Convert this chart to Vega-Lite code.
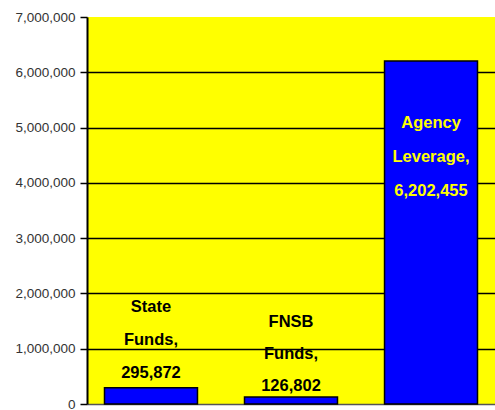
{
  "$schema": "https://vega.github.io/schema/vega-lite/v6.json",
  "width": 408,
  "height": 387,
  "autosize": "none",
  "padding": {"left": 87, "top": 17, "right": 0, "bottom": 6},
  "background": "white",
  "config": {
    "view": {"fill": "#ffff00", "stroke": null},
    "font": "Liberation Sans, Arial, sans-serif"
  },
  "data": {
    "values": [
      {"category": "State Funds", "value": 295872, "label": "State\nFunds,\n295,872"},
      {"category": "FNSB Funds", "value": 126802, "label": "FNSB\nFunds,\n126,802"},
      {"category": "Agency Leverage", "value": 6202455, "label": "Agency\nLeverage,\n6,202,455"}
    ]
  },
  "encoding": {
    "x": {
      "field": "category", "type": "nominal", "sort": null,
      "scale": {"paddingInner": 0.336, "paddingOuter": 0.125},
      "axis": {"title": null, "labels": false, "ticks": false, "domainColor": "#555555", "domainWidth": 1.5}
    },
    "y": {
      "field": "value", "type": "quantitative",
      "scale": {"domain": [0, 7000000], "nice": false},
      "axis": {
        "title": null, "values": [0, 1000000, 2000000, 3000000, 4000000, 5000000, 6000000, 7000000],
        "format": ",d", "labelFontSize": 13.5, "labelColor": "#333333", "labelPadding": 5,
        "labelFont": "Liberation Sans, Arial, sans-serif",
        "tickColor": "black", "tickSize": 7, "tickWidth": 1.5,
        "domainColor": "black", "domainWidth": 2,
        "gridColor": {"condition": {"test": "datum.value == 7000000 || datum.value == 0", "value": "transparent"}, "value": "black"},
        "gridWidth": 1.5
      }
    }
  },
  "layer": [
    {"mark": {"type": "bar", "color": "#0000ff", "stroke": "black", "strokeWidth": 1.5}},
    {
      "transform": [{"filter": "datum.category == 'State Funds'"}],
      "mark": {"type": "text", "fontSize": 16.5, "fontWeight": "bold", "color": "black", "baseline": "alphabetic", "lineBreak": "\n", "lineHeight": 33, "dy": -76},
      "encoding": {"text": {"field": "label"}}
    },
    {
      "transform": [{"filter": "datum.category == 'FNSB Funds'"}],
      "mark": {"type": "text", "fontSize": 16.5, "fontWeight": "bold", "color": "black", "baseline": "alphabetic", "lineBreak": "\n", "lineHeight": 32, "dy": -70},
      "encoding": {"text": {"field": "label"}}
    },
    {
      "transform": [{"filter": "datum.category == 'Agency Leverage'"}],
      "mark": {"type": "text", "fontSize": 16.5, "fontWeight": "bold", "color": "#ffff00", "baseline": "alphabetic", "lineBreak": "\n", "lineHeight": 34, "dy": 67},
      "encoding": {"text": {"field": "label"}}
    }
  ]
}
